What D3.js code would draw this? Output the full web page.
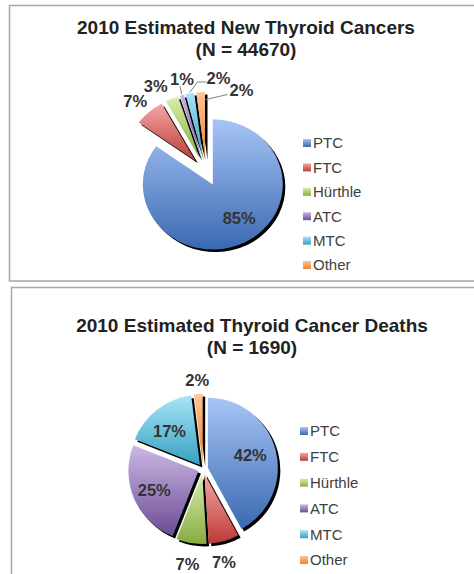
<!DOCTYPE html>
<html>
<head>
<meta charset="utf-8">
<script src="https://cdn.jsdelivr.net/npm/d3@7"></script>
<style>
  html, body { margin: 0; padding: 0; background: #fff; }
  svg { display: block; font-family: "Liberation Sans", Arial, sans-serif; }
</style>
</head>
<body>
<svg id="chart" width="474" height="574"></svg>
<script>
// data
const categories = ["PTC", "FTC", "Hürthle", "ATC", "MTC", "Other"];
const newCases = [85, 7, 3, 1, 2, 2];
const deaths = [42, 7, 7, 25, 17, 2];
const newTitle = ["2010 Estimated New Thyroid Cancers", "(N = 44670)"];
const deathTitle = ["2010 Estimated Thyroid Cancer Deaths", "(N = 1690)"];

// slice gradients, top -> bottom
const lightColors = ["#a7c4f5", "#f4a7a6", "#d9efaa", "#cbb9e4", "#a8e4f8", "#ffc597"];
const darkColors  = ["#3a69b2", "#bd3a37", "#87ab43", "#6b4b95", "#37a0c0", "#ef832c"];

const svg = d3.select("#chart");
const defs = svg.append("defs");
categories.forEach((c, i) => {
  const g = defs.append("linearGradient").attr("id", "grad" + i)
    .attr("x1", 0).attr("y1", 0).attr("x2", 0).attr("y2", 1);
  g.append("stop").attr("offset", "0%").attr("stop-color", lightColors[i]);
  g.append("stop").attr("offset", "100%").attr("stop-color", darkColors[i]);
});

const panels = [
  {
    values: newCases, title: newTitle,
    box: { x: 9.5, y: 5.5, h: 275.5 },
    titleX: 246, titleY: [34, 56],
    cx: 206, cy: 172, r: 70, sy: 0.93,
    explode: [15, 16, 16, 16, 16, 16],
    nudge: [[6, -3], [-2, 2], [-9, 3], [5, 0], [32, 1], [42, 15]],
    leaders: [
      { i: 3, from: "mid", pts: [[-2, 7]] },
      { i: 4, from: "mid", pts: [[-21, 4], [-12, 4]] },
      { i: 5, from: "end", pts: [[-14, 4]] }
    ],
    legendX: 303, legendY: 143, legendStep: 24.4
  },
  {
    values: deaths, title: deathTitle,
    box: { x: 11.5, y: 287.5, h: 320 },
    titleX: 252, titleY: [332, 354],
    cx: 203, cy: 469, r: 70, sy: 1,
    explode: [5, 5, 5, 5, 5, 5],
    nudge: [[-1, -2], [-5, 4], [-1, 3], [-3, 1], [-3, 1], [0, 4]],
    leaders: [],
    legendX: 300, legendY: 431, legendStep: 25.8
  }
];

const pie = d3.pie().sort(null).value(d => d);

panels.forEach(p => {
  const root = svg.append("g");

  root.append("rect")
    .attr("x", p.box.x).attr("y", p.box.y)
    .attr("width", 480).attr("height", p.box.h)
    .attr("fill", "#fff").attr("stroke", "#a6a6a6").attr("stroke-width", 1.5);

  root.append("text")
    .attr("text-anchor", "middle").attr("font-size", 19).attr("font-weight", "bold")
    .attr("fill", "#222")
    .selectAll("tspan").data(p.title).join("tspan")
    .attr("x", p.titleX).attr("y", (d, i) => p.titleY[i]).text(d => d);

  const arcs = pie(p.values);
  const arc = d3.arc().innerRadius(0).outerRadius(p.r);
  const mid = d => (d.startAngle + d.endAngle) / 2;
  const polar = (dist, a) => [dist * Math.sin(a), -dist * Math.cos(a)];

  // point at distance dist from the (exploded) slice tip
  const place = (d, dist, a = mid(d)) => {
    const e = polar(p.explode[d.index], mid(d));
    const q = polar(dist, a);
    return [p.cx + e[0] + q[0], p.cy + (e[1] + q[1]) * p.sy];
  };
  const sliceT = d => {
    const e = polar(p.explode[d.index], mid(d));
    return `translate(${p.cx + e[0]},${p.cy + e[1] * p.sy}) scale(1,${p.sy})`;
  };

  // black shadows under the slices
  root.append("g").selectAll("path").data(arcs).join("path")
    .attr("transform", d => "translate(2.5,2.5) " + sliceT(d))
    .attr("d", arc).attr("fill", "#000");

  root.append("g").selectAll("path").data(arcs).join("path")
    .attr("transform", sliceT)
    .attr("d", arc).attr("fill", (d, i) => `url(#grad${i})`);

  // big slices get the label inside, small ones outside
  const labelPos = arcs.map(d => {
    const pt = d.data >= 10 ? place(d, p.r * 0.64) : place(d, p.r + 18);
    return [pt[0] + p.nudge[d.index][0], pt[1] + p.nudge[d.index][1]];
  });

  p.leaders.forEach(l => {
    const d = arcs[l.i];
    const start = l.from === "end" ? place(d, p.r * 0.88, d.endAngle - 0.01) : place(d, p.r + 1);
    const lp = labelPos[l.i];
    const pts = [start].concat(l.pts.map(o => [lp[0] + o[0], lp[1] + o[1]]));
    root.append("path").attr("d", d3.line()(pts))
      .attr("fill", "none").attr("stroke", "#808080").attr("stroke-width", 1);
  });

  root.append("g").selectAll("text").data(arcs).join("text")
    .attr("x", (d, i) => labelPos[i][0]).attr("y", (d, i) => labelPos[i][1])
    .attr("dy", "0.36em").attr("text-anchor", "middle")
    .attr("font-size", 16.5).attr("font-weight", "bold").attr("fill", "#333")
    .text(d => d.data + "%");

  // legend
  const y = d3.scaleLinear().domain([0, 1]).range([p.legendY, p.legendY + p.legendStep]);
  const leg = root.append("g").selectAll("g").data(categories).join("g")
    .attr("transform", (d, i) => `translate(${p.legendX},${y(i)})`);
  leg.append("rect").attr("x", 0).attr("y", -4).attr("width", 8).attr("height", 8)
    .attr("fill", (d, i) => `url(#grad${i})`);
  leg.append("text").attr("x", 10).attr("dy", "0.36em")
    .attr("font-size", 15).attr("fill", "#404040").text(d => d);
});
</script>
</body>
</html>
